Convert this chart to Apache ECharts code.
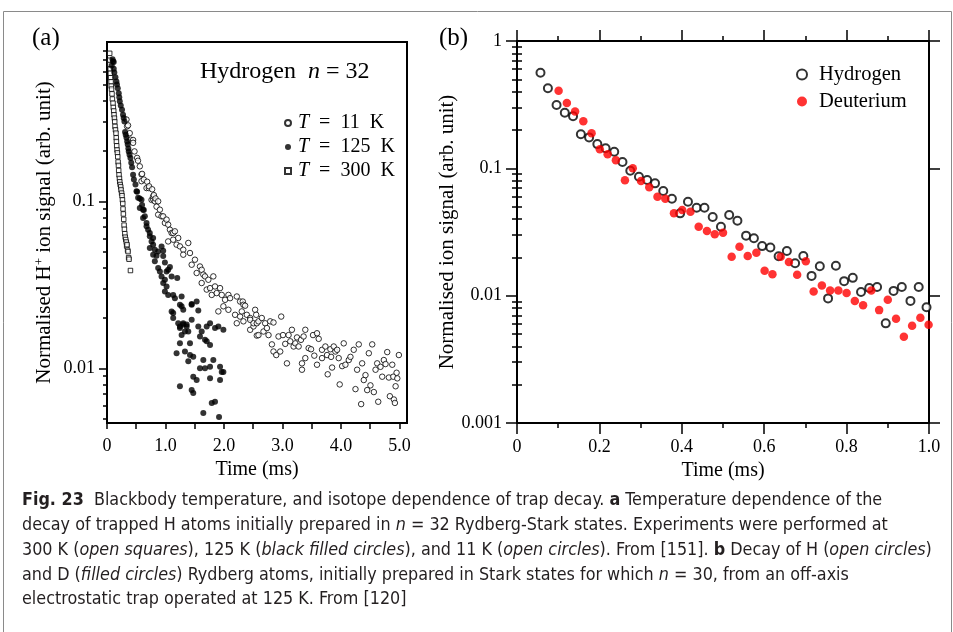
<!DOCTYPE html>
<html><head><meta charset="utf-8">
<script src="https://cdn.jsdelivr.net/npm/echarts@6/dist/echarts.min.js"></script>
<style>html,body{margin:0;padding:0;background:#fff}#c{width:953px;height:632px}</style>
</head><body><div id="c"></div>
<script>
// ---------- Panel (a): Hydrogen n = 32, [time (ms), normalised signal] ----------
const seriesNamesA = ['T = 11 K', 'T = 125 K', 'T = 300 K'];
const dataT11 = [[0.333,0.309],[0.343,0.281],[0.36,0.285],[0.389,0.256],[0.401,0.234],[0.446,0.233],[0.446,0.224],[0.47,0.199],[0.515,0.182],[0.53,0.175],[0.561,0.162],[0.59,0.145],[0.59,0.132],[0.600,0.146],[0.630,0.135],[0.676,0.120],[0.686,0.131],[0.715,0.120],[0.72,0.123],[0.762,0.102],[0.772,0.118],[0.789,0.103],[0.789,0.107],[0.801,0.109],[0.818,0.100],[0.83,0.104],[0.847,0.0929],[0.875,0.100],[0.875,0.0832],[0.904,0.0891],[0.933,0.0813],[0.961,0.0813],[0.99,0.0742],[1.019,0.0777],[1.046,0.0725],[1.046,0.0575],[1.076,0.0676],[1.105,0.0646],[1.132,0.0646],[1.132,0.0589],[1.161,0.0661],[1.19,0.055],[1.218,0.0603],[1.247,0.0537],[1.304,0.0513],[1.304,0.0479],[1.39,0.0563],[1.419,0.049],[1.448,0.0417],[1.504,0.0447],[1.533,0.0372],[1.59,0.0407],[1.619,0.0389],[1.619,0.0324],[1.647,0.0364],[1.676,0.0355],[1.705,0.0296],[1.733,0.0339],[1.762,0.0302],[1.791,0.0275],[1.818,0.0355],[1.847,0.0309],[1.876,0.0282],[1.904,0.0219],[1.933,0.0302],[1.962,0.0275],[1.99,0.0235],[2.019,0.0257],[2.076,0.0275],[2.076,0.0224],[2.105,0.0263],[2.19,0.0209],[2.219,0.0186],[2.22,0.0269],[2.276,0.0251],[2.276,0.0204],[2.305,0.0219],[2.322,0.0251],[2.333,0.024],[2.333,0.0191],[2.362,0.0237],[2.391,0.0209],[2.448,0.020],[2.448,0.0195],[2.448,0.017],[2.505,0.0178],[2.505,0.0186],[2.533,0.0224],[2.551,0.0209],[2.562,0.0186],[2.562,0.0157],[2.590,0.0191],[2.59,0.0158],[2.647,0.020],[2.676,0.0166],[2.705,0.0186],[2.734,0.0174],[2.762,0.0158],[2.791,0.0191],[2.82,0.0139],[2.847,0.0188],[2.847,0.0126],[2.894,0.012],[2.933,0.0155],[2.962,0.0126],[2.979,0.0204],[3.009,0.0158],[3.048,0.014],[3.077,0.0107],[3.105,0.0158],[3.134,0.0145],[3.162,0.017],[3.191,0.0135],[3.22,0.0141],[3.249,0.0153],[3.277,0.0135],[3.317,0.0148],[3.334,0.0107],[3.334,0.0098],[3.362,0.0155],[3.391,0.017],[3.391,0.0115],[3.448,0.0132],[3.489,0.013],[3.523,0.0158],[3.545,0.0119],[3.591,0.0162],[3.591,0.0105],[3.62,0.015],[3.677,0.0129],[3.677,0.0115],[3.734,0.0135],[3.763,0.012],[3.774,0.0092],[3.82,0.013],[3.832,0.0117],[3.849,0.0101],[3.877,0.0135],[3.906,0.0126],[3.935,0.0129],[3.962,0.0115],[3.979,0.008],[4.021,0.0103],[4.048,0.0141],[4.077,0.0105],[4.134,0.0112],[4.163,0.0117],[4.219,0.0129],[4.249,0.0075],[4.277,0.0098],[4.305,0.0139],[4.346,0.0061],[4.363,0.0107],[4.391,0.0085],[4.42,0.0091],[4.449,0.0074],[4.477,0.0123],[4.505,0.0079],[4.535,0.0139],[4.563,0.0072],[4.592,0.0098],[4.62,0.0107],[4.638,0.0063],[4.677,0.0102],[4.706,0.0089],[4.734,0.0112],[4.763,0.0106],[4.792,0.0125],[4.82,0.0088],[4.837,0.0068],[4.878,0.0105],[4.895,0.0089],[4.906,0.0065],[4.923,0.0062],[4.935,0.0078],[4.952,0.0094],[4.964,0.0087],[4.991,0.012]];
const dataT125 = [[0.080,0.65],[0.095,0.71],[0.103,0.69],[0.115,0.683],[0.115,0.622],[0.125,0.59],[0.144,0.553],[0.161,0.522],[0.170,0.50],[0.184,0.475],[0.201,0.444],[0.210,0.42],[0.218,0.398],[0.235,0.375],[0.257,0.354],[0.274,0.330],[0.285,0.315],[0.298,0.301],[0.309,0.260],[0.32,0.25],[0.333,0.240],[0.345,0.228],[0.355,0.219],[0.365,0.207],[0.372,0.199],[0.385,0.19],[0.401,0.182],[0.415,0.17],[0.429,0.160],[0.446,0.144],[0.46,0.135],[0.487,0.126],[0.504,0.115],[0.515,0.114],[0.532,0.105],[0.561,0.104],[0.561,0.0913],[0.59,0.102],[0.600,0.095],[0.617,0.0891],[0.617,0.0795],[0.630,0.0887],[0.647,0.0813],[0.676,0.0741],[0.676,0.0708],[0.703,0.0676],[0.732,0.0617],[0.732,0.0646],[0.762,0.0575],[0.789,0.055],[0.789,0.0603],[0.732,0.0525],[0.818,0.0513],[0.875,0.0501],[0.961,0.0506],[0.789,0.0479],[0.847,0.0472],[0.933,0.0537],[0.818,0.0437],[0.875,0.0398],[0.904,0.038],[0.961,0.047],[0.99,0.043],[1.076,0.0404],[1.019,0.038],[1.046,0.0389],[0.933,0.0355],[0.99,0.0339],[1.105,0.0355],[0.961,0.0324],[1.019,0.0309],[1.201,0.0347],[0.99,0.0288],[1.046,0.0275],[1.132,0.0275],[1.161,0.0263],[1.276,0.0269],[1.276,0.0235],[1.247,0.024],[1.448,0.024],[1.448,0.0243],[1.533,0.0251],[1.561,0.0222],[1.304,0.0224],[1.105,0.0219],[1.132,0.0214],[1.132,0.020],[1.218,0.0186],[1.304,0.0183],[1.304,0.0186],[1.247,0.0174],[1.247,0.0178],[1.362,0.0178],[1.362,0.0183],[1.333,0.0166],[1.39,0.0166],[1.448,0.0195],[1.561,0.0178],[1.619,0.0166],[1.705,0.0178],[1.762,0.0186],[1.847,0.0174],[1.99,0.017],[1.904,0.0178],[1.59,0.0155],[1.676,0.0148],[1.705,0.0145],[1.762,0.0138],[1.276,0.0158],[1.247,0.0141],[1.419,0.0141],[1.333,0.0126],[1.19,0.0123],[1.419,0.012],[1.475,0.0117],[1.39,0.011],[1.647,0.0112],[1.818,0.0112],[1.59,0.010],[1.676,0.010],[1.762,0.0102],[1.933,0.0102],[1.962,0.0095],[1.475,0.0089],[1.533,0.0085],[1.762,0.0087],[1.933,0.0085],[1.99,0.0095],[1.247,0.0078],[1.448,0.0074],[1.475,0.0071],[1.791,0.0062],[1.847,0.0063],[1.647,0.0054],[1.916,0.0051]];
const dataT300 = [[0.046,0.77],[0.048,0.70],[0.050,0.66],[0.055,0.62],[0.058,0.585],[0.063,0.55],[0.069,0.52],[0.072,0.49],[0.078,0.47],[0.086,0.44],[0.092,0.41],[0.103,0.387],[0.108,0.365],[0.115,0.348],[0.120,0.33],[0.127,0.315],[0.132,0.30],[0.137,0.281],[0.145,0.268],[0.154,0.256],[0.158,0.24],[0.161,0.228],[0.166,0.215],[0.172,0.203],[0.178,0.195],[0.184,0.185],[0.190,0.172],[0.196,0.164],[0.200,0.153],[0.206,0.144],[0.213,0.137],[0.218,0.131],[0.226,0.126],[0.235,0.122],[0.240,0.117],[0.250,0.112],[0.257,0.108],[0.264,0.102],[0.270,0.097],[0.274,0.090],[0.280,0.084],[0.286,0.078],[0.292,0.072],[0.298,0.068],[0.305,0.064],[0.312,0.061],[0.321,0.059],[0.330,0.057],[0.336,0.054],[0.343,0.055],[0.352,0.051],[0.360,0.050],[0.370,0.046],[0.377,0.045],[0.401,0.0385]];

// ---------- Panel (b): isotope dependence, [time (ms), normalised signal] ----------
const seriesNamesB = ['Hydrogen', 'Deuterium'];
const dataH = [[0.057,0.564],[0.075,0.425],[0.096,0.314],[0.116,0.273],[0.136,0.257],[0.155,0.185],[0.175,0.175],[0.195,0.155],[0.215,0.144],[0.236,0.135],[0.256,0.112],[0.275,0.0958],[0.296,0.0859],[0.316,0.081],[0.335,0.0762],[0.355,0.0663],[0.376,0.0577],[0.396,0.0443],[0.415,0.0547],[0.436,0.049],[0.455,0.049],[0.475,0.0415],[0.495,0.0348],[0.515,0.043],[0.535,0.0388],[0.556,0.0296],[0.575,0.0282],[0.595,0.0245],[0.615,0.0239],[0.635,0.0204],[0.655,0.0224],[0.675,0.018],[0.695,0.0205],[0.715,0.0143],[0.735,0.017],[0.755,0.00952],[0.774,0.0172],[0.794,0.013],[0.815,0.0138],[0.835,0.0107],[0.855,0.0115],[0.874,0.0117],[0.895,0.00606],[0.914,0.0109],[0.934,0.0117],[0.955,0.0091],[0.975,0.0117],[0.994,0.0081]];
const dataD = [[0.101,0.407],[0.121,0.326],[0.141,0.279],[0.161,0.234],[0.181,0.189],[0.201,0.141],[0.220,0.129],[0.240,0.116],[0.262,0.0805],[0.281,0.100],[0.301,0.0795],[0.321,0.0709],[0.341,0.0599],[0.360,0.0577],[0.381,0.0443],[0.401,0.047],[0.421,0.0456],[0.441,0.0348],[0.461,0.0322],[0.480,0.0303],[0.500,0.0312],[0.521,0.0202],[0.540,0.0242],[0.560,0.0205],[0.581,0.0217],[0.601,0.0157],[0.620,0.0147],[0.640,0.0202],[0.660,0.0184],[0.680,0.0146],[0.701,0.0186],[0.720,0.0108],[0.740,0.012],[0.760,0.011],[0.780,0.011],[0.800,0.0105],[0.820,0.0091],[0.840,0.0084],[0.860,0.0110],[0.879,0.0077],[0.900,0.0093],[0.920,0.0066],[0.939,0.00475],[0.959,0.0058],[0.979,0.0067],[0.999,0.0059]];

// ---------- tick values & labels ----------
const aXTickVals = [0,0.5,1,1.5,2,2.5,3,3.5,4,4.5,5];
const aXLabelVals = [0,1,2,3,4,5];
const aXLabels = ['0','1.0','2.0','3.0','4.0','5.0'];
const aYLabelVals = [0.01,0.1];
const aYLabels = ['0.01','0.1'];
const bXLabels = ['0','0.2','0.4','0.6','0.8','1.0'];
const bYLabelVals = [0.001,0.01,0.1,1];
const bYLabels = ['0.001','0.01','0.1','1'];

function logMinor(lo, hi){
  const out=[];
  for(let e=-4;e<=1;e++){for(let m=2;m<=9;m++){const v=+(m*Math.pow(10,e)).toPrecision(3); if(v>lo&&v<hi) out.push(v);}}
  return out;
}
function pick(vals, labels){
  return function(v){ for(let i=0;i<vals.length;i++){ if(Math.abs(v-vals[i])<=Math.abs(vals[i])*1e-6+1e-9) return labels[i]; } return ''; };
}

const SERIF = "'Liberation Serif','Times New Roman',serif";
const SANS = "'Liberation Sans Narrow','DejaVu Sans Condensed','Liberation Sans',sans-serif";
const BLACK = '#000';
const CAP = '#231f20';
const CF = 17.8;
const lineS = {color:BLACK,width:2};

const aYmin=0.0047, aYmax=0.9, aXmax=5.13;

const chart = echarts.init(document.getElementById('c'), null, {renderer:'canvas'});

function yMinorAxis(grid, min, max, pos, len){
  return {type:'log', gridIndex:grid, min:min, max:max, position:pos, logBase:10,
    axisLine:{show:false}, splitLine:{show:false}, axisLabel:{show:false},
    axisTick:{show:true, inside:false, length:len, lineStyle:{color:BLACK,width:1.5}, customValues:logMinor(min,max)}};
}

const option = {
  animation:false,
  backgroundColor:'#fff',
  grid:[
    {left:107, top:42, width:300, height:381, show:true, borderColor:BLACK, borderWidth:2, backgroundColor:'transparent'},
    {left:517, top:41, width:412, height:382, show:true, borderColor:BLACK, borderWidth:2, backgroundColor:'transparent'}
  ],
  xAxis:[
    {type:'value', gridIndex:0, min:0, max:aXmax, position:'bottom',
      axisLine:{show:true, onZero:false, lineStyle:lineS},
      axisTick:{show:true, length:6, lineStyle:{color:BLACK,width:1.5}, customValues:aXTickVals},
      axisLabel:{customValues:aXLabelVals, formatter:pick(aXLabelVals,aXLabels), color:BLACK, fontFamily:SERIF, fontSize:18, margin:14},
      splitLine:{show:false},
      name:'Time (ms)', nameLocation:'middle', nameGap:33, nameTextStyle:{color:BLACK, fontFamily:SERIF, fontSize:20}},
    {type:'value', gridIndex:1, min:0, max:1, interval:0.2, position:'bottom',
      axisLine:{show:true, onZero:false, lineStyle:lineS},
      axisTick:{show:true, length:11, lineStyle:{color:BLACK,width:1.5}},
      minorTick:{show:true, splitNumber:2, length:5, lineStyle:{color:BLACK,width:1.5}},
      axisLabel:{formatter:function(v){return bXLabels[Math.round(v/0.2)]||'';}, color:BLACK, fontFamily:SERIF, fontSize:18, margin:15},
      splitLine:{show:false},
      name:'Time (ms)', nameLocation:'middle', nameGap:35, nameTextStyle:{color:BLACK, fontFamily:SERIF, fontSize:20}},
    {type:'value', gridIndex:1, min:0, max:1, interval:0.2, position:'top',
      axisLine:{show:true, onZero:false, lineStyle:lineS},
      axisTick:{show:true, length:11, lineStyle:{color:BLACK,width:1.5}},
      minorTick:{show:true, splitNumber:2, length:5, lineStyle:{color:BLACK,width:1.5}},
      axisLabel:{show:false}, splitLine:{show:false}}
  ],
  yAxis:[
    {type:'log', gridIndex:0, min:aYmin, max:aYmax, logBase:10, position:'left',
      axisLine:{show:true, onZero:false, lineStyle:lineS},
      axisTick:{show:true, length:8, lineStyle:{color:BLACK,width:1.5}, customValues:aYLabelVals},
      axisLabel:{customValues:aYLabelVals, formatter:pick(aYLabelVals,aYLabels), color:BLACK, fontFamily:SERIF, fontSize:18, margin:12},
      splitLine:{show:false}, minorTick:{show:false},
      name:'Normalised H{sup|+} ion signal (arb. unit)', nameLocation:'middle', nameGap:51,
      nameTextStyle:{color:BLACK, fontFamily:SERIF, fontSize:21, rich:{sup:{fontFamily:SERIF, fontSize:13, color:BLACK, verticalAlign:'top', padding:[0,0,10,0]}}}},
    yMinorAxis(0, aYmin, aYmax, 'left', 4),
    {type:'log', gridIndex:1, min:0.001, max:1, logBase:10, position:'left',
      axisLine:{show:true, onZero:false, lineStyle:lineS},
      axisTick:{show:true, length:11, lineStyle:{color:BLACK,width:1.5}, customValues:bYLabelVals},
      axisLabel:{customValues:bYLabelVals, formatter:pick(bYLabelVals,bYLabels), color:BLACK, fontFamily:SERIF, fontSize:18, margin:15},
      splitLine:{show:false},
      name:'Normalised ion signal (arb. unit)', nameLocation:'middle', nameGap:51,
      nameTextStyle:{color:BLACK, fontFamily:SERIF, fontSize:21}},
    yMinorAxis(1, 0.001, 1, 'left', 5),
    {type:'log', gridIndex:1, min:0.001, max:1, logBase:10, position:'right',
      axisLine:{show:true, onZero:false, lineStyle:lineS},
      axisTick:{show:true, length:11, lineStyle:{color:BLACK,width:1.5}, customValues:bYLabelVals},
      axisLabel:{show:false}, splitLine:{show:false}},
    yMinorAxis(1, 0.001, 1, 'right', 5)
  ],
  legend:[
    {orient:'vertical', left:284, top:113, padding:0, itemWidth:6, itemHeight:6, itemGap:4,
      data:seriesNamesA, selectedMode:false,
      formatter:function(n){return n.replace('T = ','{it|T}  =  ').replace(' K','  K');},
      textStyle:{color:BLACK, fontFamily:SERIF, fontSize:20, lineHeight:20, padding:[0,0,0,2],
        rich:{it:{fontFamily:SERIF, fontSize:20, fontStyle:'italic', color:BLACK}}}},
    {orient:'vertical', left:796, top:64, padding:0, itemWidth:10, itemHeight:10, itemGap:6,
      data:seriesNamesB, selectedMode:false,
      textStyle:{color:BLACK, fontFamily:SERIF, fontSize:20.5, lineHeight:18, padding:[0,0,0,7]}}
  ],
  series:[
    {name:seriesNamesA[2], type:'scatter', xAxisIndex:0, yAxisIndex:0, data:dataT300,
      symbol:'rect', symbolSize:4.5, itemStyle:{color:'#fff', borderColor:BLACK, borderWidth:1}},
    {name:seriesNamesA[0], type:'scatter', xAxisIndex:0, yAxisIndex:0, data:dataT11,
      symbol:'circle', symbolSize:5.5, itemStyle:{color:'#fff', borderColor:BLACK, borderWidth:1}},
    {name:seriesNamesA[1], type:'scatter', xAxisIndex:0, yAxisIndex:0, data:dataT125,
      symbol:'circle', symbolSize:6, itemStyle:{color:BLACK}},
    {name:seriesNamesB[0], type:'scatter', xAxisIndex:1, yAxisIndex:2, data:dataH,
      symbol:'circle', symbolSize:8, itemStyle:{color:'#fff', borderColor:BLACK, borderWidth:2}},
    {name:seriesNamesB[1], type:'scatter', xAxisIndex:1, yAxisIndex:2, data:dataD,
      symbol:'circle', symbolSize:8.5, itemStyle:{color:'#ff0000'}}
  ],
  graphic:[
    {type:'rect', left:1, top:9, silent:true, shape:{x:0,y:0,width:948,height:700}, style:{fill:'none', stroke:'#8a8a8a', lineWidth:1}},
    {type:'text', left:32, top:26, style:{text:'(a)', font:'25px '+SERIF, fill:BLACK}},
    {type:'text', left:439, top:26, style:{text:'(b)', font:'25px '+SERIF, fill:BLACK}},
    {type:'text', left:200, top:60, style:{text:'Hydrogen  {it|n} = 32', font:'24px '+SERIF, fill:BLACK,
      rich:{it:{font:'italic 24px '+SERIF, fill:BLACK}}}},
    {type:'text', left:22, top:491, style:{text:'{b|Fig. 23}  Blackbody temperature, and isotope dependence of trap decay. {b|a} Temperature dependence of the',
      font:CF+'px '+SANS, fill:CAP, rich:{b:{font:'bold '+CF+'px '+SANS, fill:CAP}}}},
    {type:'text', left:22, top:516, style:{text:'decay of trapped H atoms initially prepared in {i|n} = 32 Rydberg-Stark states. Experiments were performed at',
      font:CF+'px '+SANS, fill:CAP, rich:{i:{font:'italic '+CF+'px '+SANS, fill:CAP}}}},
    {type:'text', left:22, top:541, style:{text:'300 K ({i|open squares}), 125 K ({i|black filled circles}), and 11 K ({i|open circles}). From [151]. {b|b} Decay of H ({i|open circles})',
      font:CF+'px '+SANS, fill:CAP, rich:{i:{font:'italic '+CF+'px '+SANS, fill:CAP}, b:{font:'bold '+CF+'px '+SANS, fill:CAP}}}},
    {type:'text', left:22, top:566, style:{text:'and D ({i|filled circles}) Rydberg atoms, initially prepared in Stark states for which {i|n} = 30, from an off-axis',
      font:CF+'px '+SANS, fill:CAP, rich:{i:{font:'italic '+CF+'px '+SANS, fill:CAP}}}},
    {type:'text', left:22, top:590, style:{text:'electrostatic trap operated at 125 K. From [120]',
      font:CF+'px '+SANS, fill:CAP}}
  ]
};
chart.setOption(option);
</script></body></html>
